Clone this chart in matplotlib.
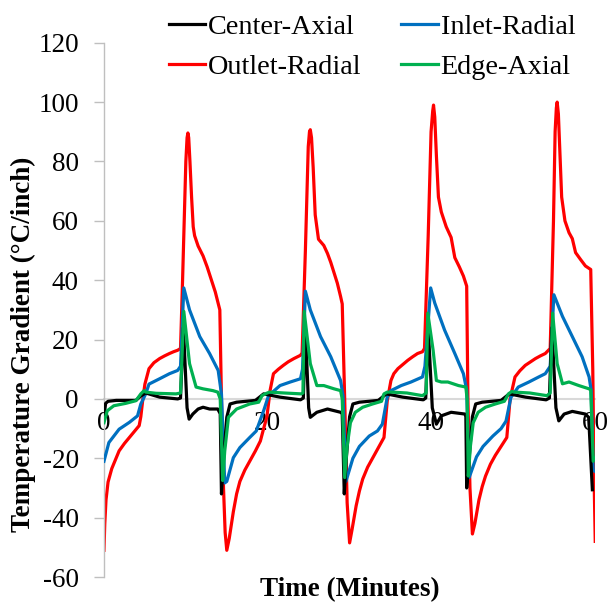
import numpy as np
import matplotlib.pyplot as plt

# Time (minutes) and temperature gradient (degC/inch)
center_t = [0, 0.2, 0.5, 1.5, 3.9, 4.5, 5.1, 6.8, 9.0, 9.35, 9.7, 10.15, 10.4, 10.85, 11.5, 12.1, 12.9, 13.9, 14.2, 14.35,
            14.6, 15.0, 15.4, 16.2, 18.5, 19.5, 21.5, 24.0, 24.35, 24.6, 25.0, 25.2, 26.0, 27.3, 28.9, 29.1, 29.35,
            29.6, 30.0, 30.4, 31.2, 33.5, 34.5, 36.5, 39.0, 39.3, 39.6, 40.1, 40.6, 41.2, 42.4, 44.1, 44.2, 44.3,
            44.6, 45.0, 45.4, 46.2, 48.5, 49.5, 51.5, 54.0, 54.4, 54.7, 55.2, 55.55, 56.2, 57.2, 58.8, 59.2, 59.65]
center_y = [-6, -1.5, -0.8, -0.5, -0.5, 1.0, 2.0, 0.6, 0.0, 0.3, 24, -3, -6.8, -5.1, -3.4, -2.8, -3.4, -3.4, -5, -32,
            -20, -6.2, -1.7, -1.1, -0.5, 1.7, 0.6, -0.3, 0.3, 24, -3, -6.2, -4.5, -3.4, -4.5, -5, -32,
            -20, -6, -1.7, -1.1, -0.5, 1.7, 0.6, -0.3, 0.3, 24, -3, -8.5, -5.7, -4.5, -5.1, -6, -30,
            -20, -6, -1.7, -1.1, -0.5, 1.7, 0.6, -0.3, 0.3, 24, -3, -7.4, -5.1, -4.2, -5.1, -6.2, -30.6]

inlet_t = [0, 0.6, 1.85, 3.1, 4.1, 4.5, 5.1, 5.5, 6.8, 8.0, 9.0, 9.35, 9.75, 10.45, 11.7, 12.9, 13.95, 14.35, 14.75,
           15.0, 15.8, 16.6, 17.8, 18.6, 19.5, 20.1, 21.5, 22.75, 24.0, 24.25, 24.6, 25.2, 26.45, 27.7, 28.9, 29.2, 29.55,
           30.4, 31.2, 32.4, 33.4, 34.0, 34.6, 35.05, 36.3, 37.5, 38.9, 39.2, 39.9, 40.4, 41.6, 42.85, 43.9, 44.3, 44.6,
           45.5, 46.3, 47.5, 48.5, 49.1, 49.7, 50.6, 51.9, 53.1, 53.9, 54.5, 54.95, 56.0, 57.2, 58.4, 59.25, 59.5, 59.75, 60.0]
inlet_y = [-21, -14.7, -10.2, -7.9, -5.7, -1.7, 1.7, 5.0, 6.8, 8.5, 9.6, 11, 37.4, 30, 21, 15.3, 9.6, 1.7, -28.3,
           -27.8, -19.8, -16.4, -13, -10.8, -4, 1.1, 4.5, 5.7, 6.8, 10, 36.3, 30, 21, 14.2, 6.2, 1, -27.8,
           -20, -16, -12.5, -10.8, -8.5, 0.6, 2.8, 4.5, 5.7, 7.4, 11, 37.4, 32.3, 23.2, 15.3, 8.5, 3, -26.5,
           -19.5, -16, -12.5, -10, -7.5, 0.5, 4.0, 5.7, 7.4, 8.5, 11, 35.1, 27.8, 21, 14.2, 7.4, 3, -24, -24.5]

outlet_t = [0, 0.1, 0.25, 0.5, 0.95, 1.4, 1.85, 2.5, 3.1, 3.7, 4.3, 4.5, 4.75, 5.0, 5.5, 6.1, 6.8, 7.4, 8.0, 8.5, 9.0, 9.35,
            9.6, 10.0, 10.15, 10.25, 10.35, 10.5, 10.7, 10.9, 11.07, 11.5, 12.1, 12.6, 13.1, 13.6, 14.15, 14.35, 14.6, 14.8, 15.0,
            15.3, 15.8, 16.2, 16.6, 17.2, 17.8, 18.5, 19.1, 19.5, 19.9, 20.3, 20.7, 21.3, 21.9, 22.5, 23.2, 24.0, 24.2,
            24.6, 24.95, 25.1, 25.2, 25.35, 25.55, 25.8, 26.2, 26.85, 27.3, 27.7, 28.1, 28.5, 28.9, 29.1, 29.4, 29.7, 30.0,
            30.3, 30.8, 31.2, 31.6, 32.2, 32.8, 33.5, 34.2, 34.6, 35.05, 35.4, 35.9, 36.5, 37.1, 37.7, 38.3, 38.9, 39.15,
            39.6, 39.95, 40.15, 40.25, 40.4, 40.6, 40.85, 41.2, 41.8, 42.4, 42.85, 43.4, 43.9, 44.3, 44.45, 44.7, 45.0,
            45.3, 45.8, 46.2, 46.6, 47.2, 47.8, 48.5, 49.2, 49.6, 50.2, 50.8, 51.45, 52.1, 52.7, 53.3, 53.9, 54.5,
            54.9, 55.1, 55.25, 55.35, 55.5, 55.7, 55.9, 56.3, 56.8, 57.2, 57.6, 58.2, 58.8, 59.45, 59.7, 59.85, 60.0]
outlet_y = [-51, -42, -34, -28, -23.5, -20.5, -17.5, -15, -13, -11, -9, -6, 0, 5, 10.2, 12.2, 13.6, 14.5, 15.3, 15.9, 16.4, 17,
            40, 80, 88, 89.6, 88, 80, 68, 58, 55, 51.5, 48.2, 44.5, 40.2, 36, 30, 0, -30, -45, -51,
            -47, -38, -32, -27.8, -24, -21, -17.5, -14.2, -10, -6, 3, 8.5, 10, 11.3, 12.5, 13.6, 14.7, 15.5,
            50, 85, 90, 90.7, 88, 78, 62, 53.8, 51.7, 49, 46, 42.5, 39, 34.5, 32, 0, -35, -48.5,
            -44, -36, -31, -27, -23, -20, -16.5, -13, -0.6, 6.2, 8.5, 10.2, 11.6, 13, 14.2, 15.3, 15.9, 17,
            55, 90, 97, 99, 95, 82, 68, 63, 58, 54.4, 47.6, 44.5, 41.4, 38, 0, -30, -45.5,
            -42, -34, -29.5, -26, -22, -19, -16, -13, 0, 7.4, 9.5, 11.3, 12.5, 13.6, 14.5, 15.3, 17,
            60, 90, 98, 100, 96, 82, 68, 60, 56, 54, 49.3, 47, 44.8, 43.6, 10, -25, -48]

edge_t = [0, 0.4, 1.2, 2.65, 3.9, 4.5, 4.9, 5.1, 6.35, 8.8, 9.35, 9.75, 10.45, 11.25, 12.1, 13.3, 13.9, 14.2, 14.5,
          14.75, 15.2, 16.2, 17.8, 18.9, 19.3, 19.7, 20.2, 22.0, 24.1, 24.3, 24.45, 25.2, 26.0, 26.85, 28.1, 28.9, 29.1, 29.4,
          29.7, 30.1, 30.7, 31.6, 32.8, 33.9, 34.2, 34.6, 35.1, 37.0, 38.9, 39.35, 39.55, 40.2, 40.6, 41.2, 42.0, 43.3, 44.2, 44.35, 44.5,
          44.75, 45.1, 45.7, 46.6, 47.8, 48.9, 49.4, 49.8, 50.1, 52.0, 54.1, 54.5, 54.8, 55.35, 56.0, 56.8, 58.0, 59.25, 59.45, 59.75, 60.0]
edge_y = [-8, -4, -2.3, -1.5, -0.6, 1.7, 2.8, 2.3, 1.9, 1.7, 2, 29.5, 11.9, 4, 3.4, 2.8, 2.3, 0, -27.5,
          -17.6, -6.2, -3.4, -1.7, -1.1, 1.1, 1.7, 2.3, 2.0, 1.7, 2, 29.5, 11.9, 4.5, 4.5, 3.4, 2.8, 0, -26.5,
          -16, -8, -4.5, -2.8, -1.7, -0.8, 1.7, 2.3, 2.3, 2.0, 1.1, 2, 28.9, 16.4, 6.2, 5.7, 5.7, 4.5, 4, 0, -26,
          -16, -8, -4.5, -2.8, -1.7, -0.8, 1.7, 2.5, 2.3, 2.0, 1.1, 2, 28.9, 11.9, 5.1, 5.7, 4.5, 3.4, 3.0, -21, -20]

series = [
    ("Center-Axial", center_t, center_y, "#000000"),
    ("Outlet-Radial", outlet_t, outlet_y, "#FF0000"),
    ("Inlet-Radial", inlet_t, inlet_y, "#0070C0"),
    ("Edge-Axial", edge_t, edge_y, "#00B050"),
]

plt.rcParams['font.family'] = ['Liberation Serif', 'DejaVu Serif']
plt.rcParams['axes.unicode_minus'] = False

fig = plt.figure(figsize=(6.08, 6.02), dpi=100)
ax = fig.add_axes([0.171, 0.0415, 0.808, 0.8875])

# draw order: red at the bottom
zorders = {"Outlet-Radial": 2, "Inlet-Radial": 3, "Edge-Axial": 4, "Center-Axial": 3.5}
handles = []
for name, t, y, color in series:
    ln, = ax.plot(t, y, color=color, linewidth=2.3, label=name, zorder=zorders[name])
    handles.append(ln)

ax.set_xlim(0, 60)
ax.set_ylim(-60, 120)
ax.set_xticks([0, 20, 40, 60])
ax.set_yticks(range(-60, 121, 20))

ax.spines['top'].set_visible(False)
ax.spines['right'].set_visible(False)
ax.spines['bottom'].set_position(('data', 0))
ax.spines['bottom'].set_color('#d9d9d9')
ax.spines['bottom'].set_linewidth(1.5)
ax.spines['bottom'].set_zorder(1)
ax.spines['left'].set_color('#bfbfbf')
ax.spines['left'].set_linewidth(1.0)

ax.tick_params(axis='x', length=0, pad=9, labelsize=19.5)
ax.tick_params(axis='y', length=7, width=1.0, color='#bfbfbf', direction='out', labelsize=19.5, pad=11)
for lbl in ax.get_xticklabels():
    lbl.set_zorder(5)

ax.set_xlabel('Time (Minutes)', fontsize=19.5, fontweight='bold')
ax.xaxis.set_label_coords(0.5, 0.0)
ax.set_ylabel('Temperature Gradient (°C/inch)', fontsize=19.5, fontweight='bold')
ax.yaxis.set_label_coords(-0.138, 0.435)

fig.legend(handles=handles, labels=[h.get_label() for h in handles], ncol=2, frameon=False,
           fontsize=20.3, loc='upper left', bbox_to_anchor=(0.259, 0.995),
           handlelength=1.3, handletextpad=0.1, columnspacing=1.4, labelspacing=0.5,
           borderaxespad=0)

fig.savefig('out.png', dpi=100)
